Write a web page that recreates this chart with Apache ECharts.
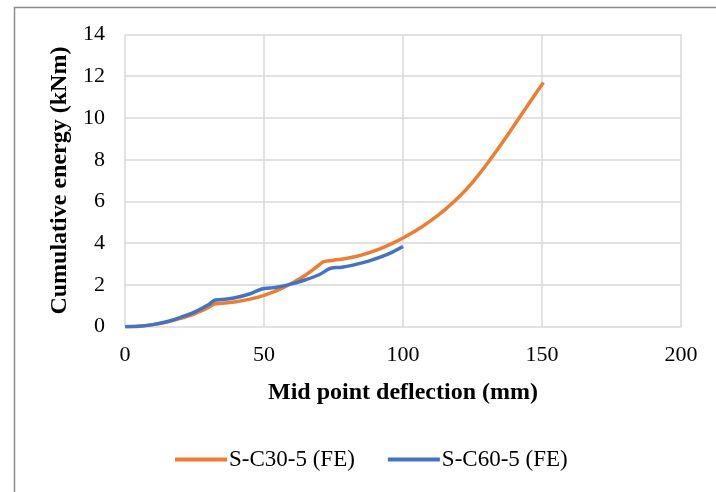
<!DOCTYPE html>
<html>
<head>
<meta charset="utf-8">
<script src="https://cdn.jsdelivr.net/npm/echarts@6/dist/echarts.min.js"></script>
<style>
  html, body { margin: 0; padding: 0; background: #fff; }
  #chart { width: 716px; height: 492px; }
</style>
</head>
<body>
<div id="chart"></div>
<script>
// 数据：跨中挠度 (mm) 与累计能量 (kNm)
const seriesNames = ['S-C30-5 (FE)', 'S-C60-5 (FE)']

const c30Deflection = [0, 5, 10, 15, 20, 25, 30, 32.5, 35, 40, 45, 50, 55, 60, 65, 70, 71.5, 75, 80, 85, 90, 95, 100, 105, 110, 115, 120, 125, 130, 135, 140, 145, 150.5]
const c30Energy = [0, 0.02, 0.1, 0.22, 0.4, 0.62, 0.92, 1.1, 1.12, 1.2, 1.32, 1.5, 1.75, 2.08, 2.48, 2.98, 3.12, 3.18, 3.28, 3.43, 3.64, 3.92, 4.25, 4.63, 5.08, 5.6, 6.2, 6.92, 7.76, 8.68, 9.65, 10.63, 11.7]

const c60Deflection = [0, 5, 10, 15, 20, 25, 30, 32.5, 35, 40, 45, 49.5, 52, 55, 60, 65, 70, 74, 78, 82, 86, 90, 95, 100]
const c60Energy = [0, 0.02, 0.1, 0.24, 0.45, 0.7, 1.05, 1.28, 1.3, 1.4, 1.58, 1.82, 1.85, 1.9, 2.05, 2.25, 2.5, 2.8, 2.85, 2.95, 3.08, 3.25, 3.5, 3.84]

const xTicks = { min: 0, max: 200, interval: 50 }
const yTicks = { min: 0, max: 14, interval: 2 }

const serif = '"Liberation Serif", "Times New Roman", serif'

function pairs(xs, ys) {
  return xs.map((x, i) => [x, ys[i]])
}

let option = {
  animation: false,
  textStyle: { fontFamily: serif, color: '#000' },
  graphic: [
    {
      type: 'rect',
      left: 12,
      top: 5,
      shape: { width: 740, height: 520 },
      style: { fill: 'none', stroke: '#8c8c8c', lineWidth: 1.5 },
      silent: true
    }
  ],
  legend: {
    data: seriesNames,
    left: 170,
    top: 443,
    itemWidth: 52,
    itemHeight: 4,
    itemGap: 33,
    icon: 'rect',
    textStyle: { fontFamily: serif, fontSize: 23, color: '#000', padding: [0, 0, 0, -3] }
  },
  grid: {
    left: 125,
    right: 35,
    top: 34.5,
    bottom: 165.3
  },
  xAxis: {
    type: 'value',
    min: xTicks.min,
    max: xTicks.max,
    interval: xTicks.interval,
    name: 'Mid point deflection (mm)',
    nameLocation: 'middle',
    nameGap: 54,
    nameTextStyle: { fontFamily: serif, fontSize: 24, fontWeight: 'bold', color: '#000' },
    axisLine: { show: false },
    axisTick: { show: false },
    axisLabel: { fontFamily: serif, fontSize: 22, color: '#000', margin: 18 },
    splitLine: { show: true, lineStyle: { color: '#d9d9d9', width: 1.5 } }
  },
  yAxis: {
    type: 'value',
    min: yTicks.min,
    max: yTicks.max,
    interval: yTicks.interval,
    name: 'Cumulative energy (kNm)',
    nameLocation: 'middle',
    nameGap: 51,
    nameTextStyle: { fontFamily: serif, fontSize: 24, fontWeight: 'bold', color: '#000' },
    axisLine: { show: false },
    axisTick: { show: false },
    axisLabel: { fontFamily: serif, fontSize: 22, color: '#000', margin: 20 },
    splitLine: { show: true, lineStyle: { color: '#d9d9d9', width: 1.5 } }
  },
  series: [
    {
      name: seriesNames[0],
      type: 'line',
      showSymbol: false,
      smooth: 0.35,
      color: '#ED7D31',
      lineStyle: { width: 3.5 },
      data: pairs(c30Deflection, c30Energy)
    },
    {
      name: seriesNames[1],
      type: 'line',
      showSymbol: false,
      smooth: 0.35,
      color: '#4472C4',
      lineStyle: { width: 3.5 },
      data: pairs(c60Deflection, c60Energy)
    }
  ]
}

let myChart = echarts.init(document.getElementById('chart'))
myChart.setOption(option)
</script>
</body>
</html>
